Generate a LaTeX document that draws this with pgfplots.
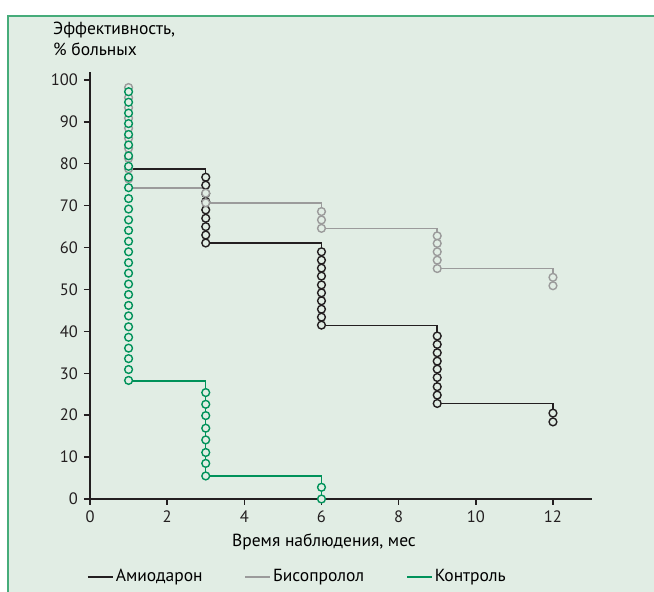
\documentclass[border=0pt]{standalone}
\usepackage{pgfplots}
\pgfplotsset{compat=1.18}
\usepackage{fontspec}
\setmainfont{PT Sans}
\definecolor{bg}{RGB}{225,237,228}
\definecolor{frame}{RGB}{70,172,122}
\definecolor{cblack}{RGB}{35,31,32}
\definecolor{cgray}{RGB}{155,155,155}
\definecolor{cgreen}{RGB}{0,146,90}
\begin{document}
\fontsize{17.5}{21}\selectfont
\begin{tikzpicture}
\path[use as bounding box] (0pt,0pt) rectangle (654pt,592pt);
\fill[white] (0pt,0pt) rectangle (654pt,592pt);
\fill[bg] (8pt,0pt) rectangle (654pt,576pt);
\draw[frame, line width=1.5pt] (8pt,0pt) -- (8pt,576pt) -- (654pt,576pt);
\node[anchor=north west, align=left, inner sep=0pt, font=\fontsize{17.5}{20.5}\selectfont] at (53pt,570pt) {Эффективность,\\\% больных};
\begin{axis}[
  at={(90pt,93pt)}, anchor=south west,
  x=38.58pt, y=4.19pt,
  xmin=0, xmax=13, ymin=0, ymax=102,
  clip=false,
  axis x line=bottom, axis y line=left,
  axis line style={line width=1.6pt, cblack, -},
  xtick={0,2,...,12}, ytick={0,10,...,100},
  tick align=outside, major tick length=6pt,
  tick style={cblack, line width=1.4pt},
  /pgf/number format/assume math mode=true,
  every tick label/.append style={font=\fontsize{16.5}{20}\selectfont, text=cblack},
  xlabel={Время наблюдения, мес},
  xlabel style={at={(axis description cs:0.4666,0)}, anchor=center, yshift=-43pt, font=\fontsize{17.5}{21}\selectfont},
  legend columns=3,
  legend style={at={(axis description cs:-0.012,-0.1825)}, anchor=west, draw=none, fill=none,
    font=\fontsize{17.5}{21}\selectfont,
    /tikz/every even column/.append style={column sep=40pt}},
  legend image code/.code={\draw[#1] (0pt,0pt) -- (25pt,0pt);},
]
\addlegendimage{cblack, line width=1.6pt}
\addlegendentry{Амиодарон}
\addlegendimage{cgray, line width=1.6pt}
\addlegendentry{Бисопролол}
\addlegendimage{cgreen, line width=1.6pt}
\addlegendentry{Контроль}

\addplot[cblack, line width=1.5pt, forget plot] coordinates {(1,78.8)(3,78.8)(3,61.1)(6,61.1)(6,41.4)(9,41.4)(9,22.8)(12,22.8)(12,20.5)};
\addplot[cgray, line width=1.5pt, forget plot] coordinates {(1,74.2)(3,74.2)(3,70.6)(6,70.6)(6,64.6)(9,64.6)(9,55.0)(12,55.0)(12,52.9)};
\addplot[cgreen, line width=1.5pt, forget plot] coordinates {(1,28.2)(3,28.2)(3,5.5)(6,5.5)(6,0)};

\addplot[only marks, mark=*, mark size=3.9pt, mark options={fill=bg, draw=cblack, line width=1.4pt}, forget plot] coordinates {
(3,76.8)(3,74.9)(3,72.9)(3,71.0)(3,69.0)(3,67.0)(3,65.0)(3,63.0)(3,61.1)
(6,59.0)(6,57.0)(6,55.1)(6,53.2)(6,51.1)(6,49.2)(6,47.3)(6,45.3)(6,43.4)(6,41.5)
(9,38.9)(9,36.9)(9,34.9)(9,32.9)(9,31.0)(9,29.0)(9,26.8)(9,24.8)(9,22.8)
(12,20.5)(12,18.4)};
\addplot[only marks, mark=*, mark size=3.9pt, mark options={fill=bg, draw=cgray, line width=1.4pt}, forget plot] coordinates {
(1,98.2)(1,95.8)(1,93.4)(1,90.9)(1,88.5)(1,86.1)(1,83.7)(1,81.3)(1,78.8)(1,76.4)
(3,73.0)(3,70.7)
(6,68.6)(6,66.6)(6,64.6)
(9,62.8)(9,61.0)(9,59.0)(9,57.0)(9,55.0)
(12,52.9)(12,50.9)};
\addplot[only marks, mark=*, mark size=3.9pt, mark options={fill=bg, draw=cgreen, line width=1.4pt}, forget plot] coordinates {
(1,97.2)(1,94.7)(1,92.1)(1,89.6)(1,87.0)(1,84.5)(1,81.9)(1,79.4)(1,76.8)(1,74.3)
(1,71.7)(1,69.2)(1,66.6)(1,64.1)(1,61.5)(1,59.0)(1,56.4)(1,53.9)(1,51.3)(1,48.8)
(1,46.2)(1,43.7)(1,41.1)(1,38.6)(1,36.0)(1,33.5)(1,30.9)(1,28.3)
(3,25.4)(3,22.6)(3,19.9)(3,16.9)(3,14.1)(3,11.1)(3,8.5)(3,5.5)
(6,2.8)(6,0)};
\end{axis}
\end{tikzpicture}
\end{document}
